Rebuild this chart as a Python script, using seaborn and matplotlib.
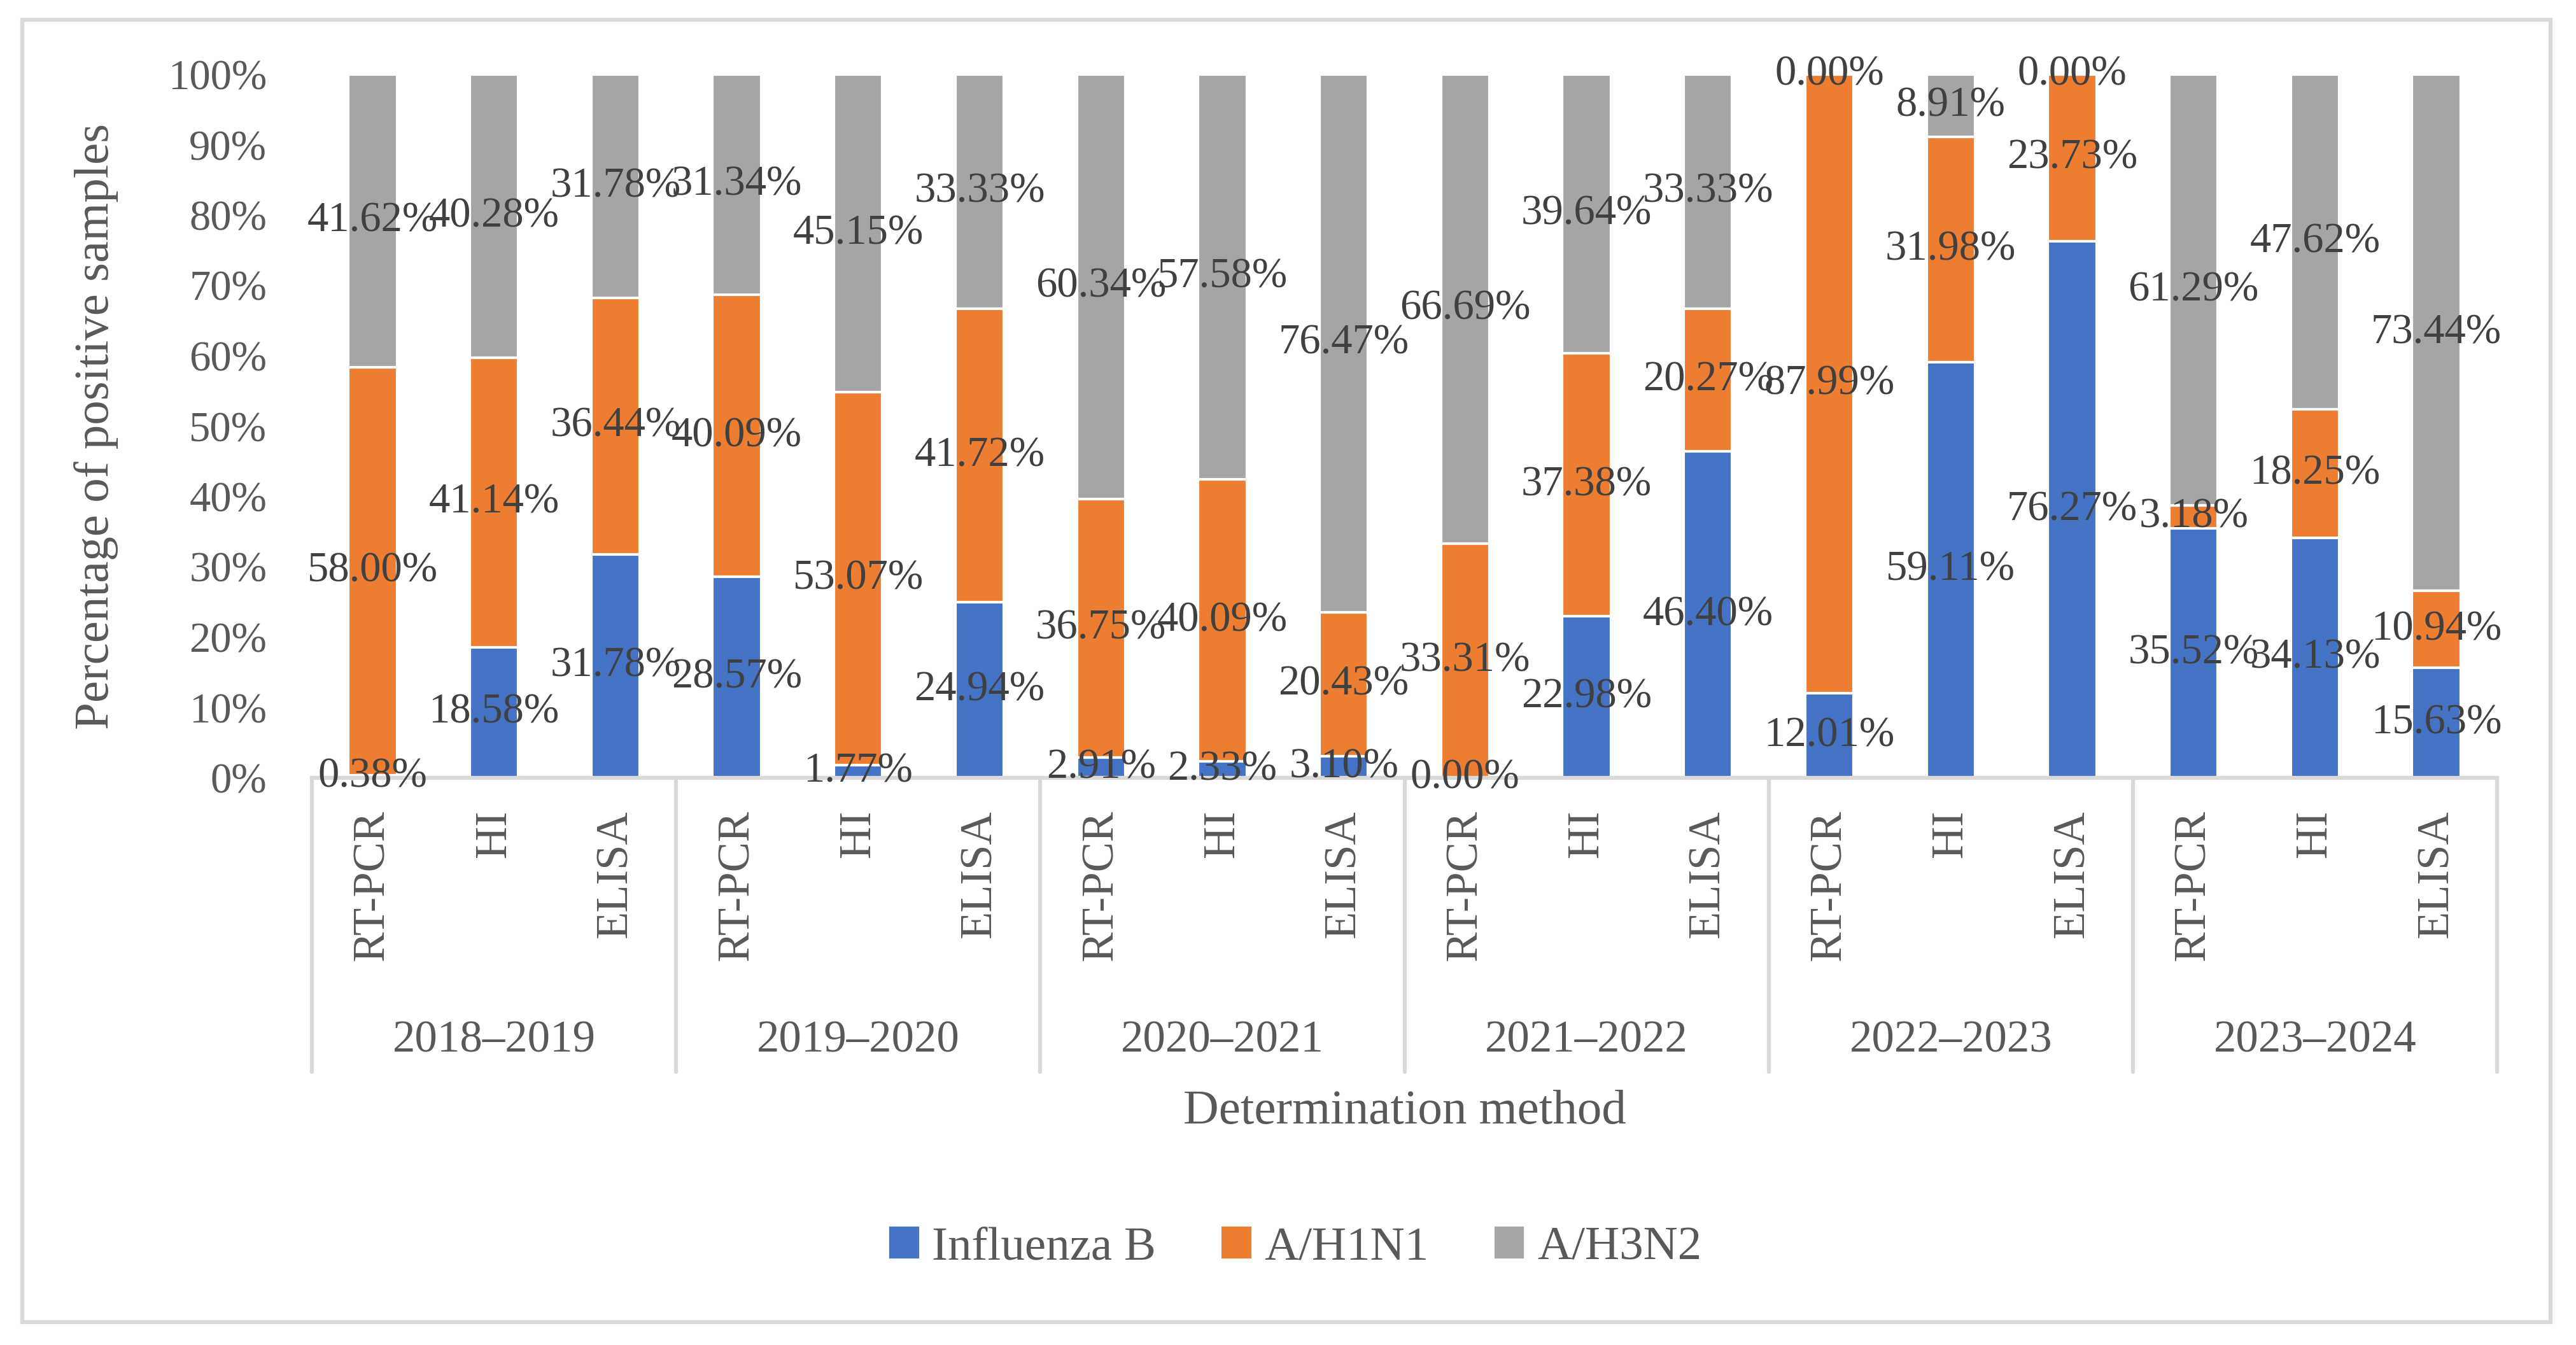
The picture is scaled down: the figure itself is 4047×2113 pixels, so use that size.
import seaborn as sns
import matplotlib.pyplot as plt
import pandas as pd
import numpy as np
from matplotlib.patches import Patch, Rectangle

sns.set_theme(style="white")
plt.rcParams['font.family'] = ['Liberation Serif', 'DejaVu Serif']

# data (percent of positive samples)
seasons = ["2018–2019", "2019–2020", "2020–2021", "2021–2022", "2022–2023", "2023–2024"]
methods = ["RT-PCR", "HI", "ELISA"]
influenza_b = [0.38, 18.58, 31.78, 28.57, 1.77, 24.94, 2.91, 2.33, 3.10,
               0.00, 22.98, 46.40, 12.01, 59.11, 76.27, 35.52, 34.13, 15.63]
a_h1n1 = [58.00, 41.14, 36.44, 40.09, 53.07, 41.72, 36.75, 40.09, 20.43,
          33.31, 37.38, 20.27, 87.99, 31.98, 23.73, 3.18, 18.25, 10.94]
a_h3n2 = [41.62, 40.28, 31.78, 31.34, 45.15, 33.33, 60.34, 57.58, 76.47,
          66.69, 39.64, 33.33, 0.00, 8.91, 0.00, 61.29, 47.62, 73.44]
series_names = ["Influenza B", "A/H1N1", "A/H3N2"]
colors = ["#4472C4", "#ED7D31", "#A5A5A5"]

df = pd.DataFrame({
    "season": np.repeat(seasons, len(methods)),
    "method": methods * len(seasons),
    "b": influenza_b, "h1": a_h1n1, "h3": a_h3n2,
})
df["key"] = df["season"] + " " + df["method"]
df["c1"] = df["b"]
df["c2"] = df["b"] + df["h1"]
df["c3"] = df["c2"] + df["h3"]

W, H = 4047, 2113
fig = plt.figure(figsize=(W / 300, H / 300), dpi=300)
ax = fig.add_axes([490 / W, 1 - 1222 / H, (3923 - 490) / W, (1222 - 117) / H])

# stacked bars: draw cumulative totals from top down
for col, c in zip(["c3", "c2", "c1"], colors[::-1]):
    sns.barplot(data=df, x="key", y=col, color=c, width=0.4, saturation=1,
                errorbar=None, ax=ax, order=list(df["key"]))

# data labels centred in each segment
lab_col = "#404040"
for i, row in df.iterrows():
    bottom = 0
    for v in (row["b"], row["h1"], row["h3"]):
        ax.text(i, bottom + v / 2, f"{v:.2f}%", ha="center", va="center",
                fontsize=16, color=lab_col, zorder=5, clip_on=False)
        bottom += v

ax.set_xlim(-0.5, len(df) - 0.5)
ax.set_ylim(0, 100)
ax.set_yticks(range(0, 101, 10))
ax.set_yticklabels([f"{v}%" for v in range(0, 101, 10)])
ax.set_xticks(range(len(df)))
ax.set_xticklabels(df["method"], rotation=90, va="top")
ax.tick_params(axis="y", length=0, pad=17, labelsize=16, labelcolor="#595959")
ax.tick_params(axis="x", length=0, pad=12, labelsize=17, labelcolor="#595959")

for s in ["top", "right", "left"]:
    ax.spines[s].set_visible(False)
ax.spines["bottom"].set_color("#D9D9D9")
ax.spines["bottom"].set_linewidth(1.5)

# season separators + group labels
trans = ax.get_xaxis_transform()
for k in range(len(seasons) + 1):
    xpos = k * len(methods) - 0.5
    ax.plot([xpos, xpos], [0, -0.418], transform=trans, color="#D9D9D9",
            lw=1.5, clip_on=False)
for k, s in enumerate(seasons):
    ax.text(k * len(methods) + 1, -0.374, s, transform=trans, ha="center",
            va="center", fontsize=17, color="#595959")

ax.set_xlabel("")
ax.set_ylabel("Percentage of positive samples", fontsize=18.5, color="#595959")
ax.yaxis.set_label_coords(-0.0886, 0.5)
fig.text(0.5 * (490 + 3923) / W, 1 - 1746 / H, "Determination method",
         ha="center", va="center", fontsize=18.5, color="#595959")

handles = [Patch(color=c, label=n) for c, n in zip(colors, series_names)]
fig.legend(handles=handles, loc="center", bbox_to_anchor=(2036 / W, 1 - 1961 / H),
           ncol=3, frameon=False, fontsize=18, handlelength=0.57, handleheight=0.57,
           handletextpad=0.3, columnspacing=1.4, labelcolor="#595959")

# chart-area border
fig.patches.append(Rectangle((35 / W, 1 - 2077 / H), (4007 - 35) / W, (2077 - 31) / H,
                             transform=fig.transFigure, fill=False,
                             edgecolor="#D9D9D9", lw=1.5))

fig.savefig("out.png", dpi=300, facecolor="white")
